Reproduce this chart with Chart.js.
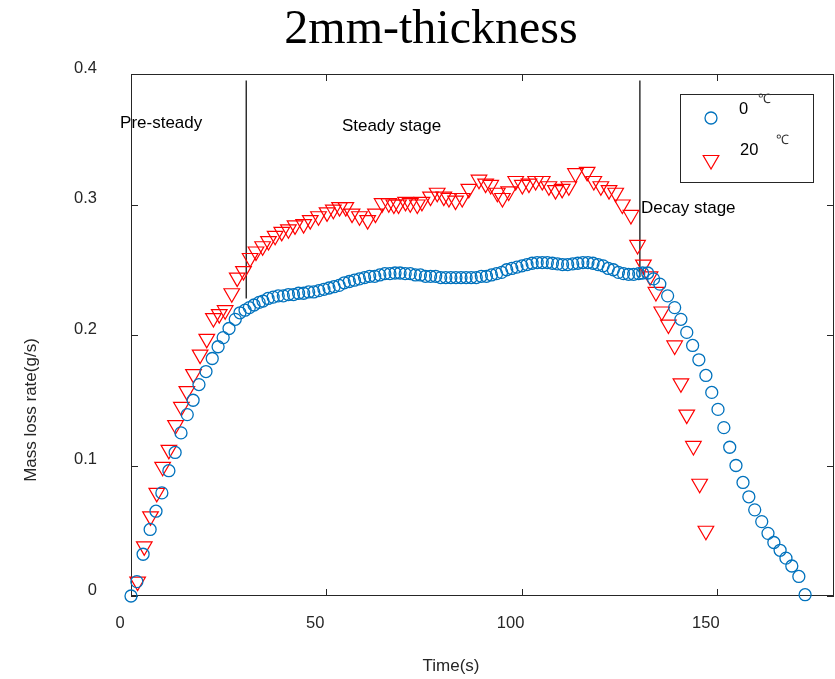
<!DOCTYPE html>
<html>
<head>
<meta charset="utf-8">
<script src="https://cdn.jsdelivr.net/npm/chart.js@4.4.0/dist/chart.umd.min.js"></script>
<style>
  html, body { margin: 0; padding: 0; background: #fff; }
</style>
</head>
<body>
<canvas id="massChart" width="835" height="679"></canvas>
<script>
// axis ticks
const timeTicks = [0, 50, 100, 150];
const rateTicks = [0, 0.1, 0.2, 0.3, 0.4];

// 0 ℃ series (blue circles)
const blueTime = [
  0, 1.5, 3.1, 4.9, 6.4, 7.9, 9.7, 11.3, 12.8, 14.4, 15.9, 17.4, 19.2, 20.8, 22.3, 23.6,
  25.1, 26.7, 27.9, 29.2, 30.3, 31.5, 32.8, 33.8,
  35.1, 36.4, 37.7, 39.0, 40.3, 41.6, 42.9, 44.2, 45.5, 46.8, 48.1, 49.4, 50.7, 52.0,
  53.3, 54.6, 55.9, 57.2, 58.5, 59.8, 61.1, 62.4, 63.7, 65.0, 66.3, 67.6, 68.9, 70.2,
  71.5, 72.8, 74.1, 75.4, 76.7, 78.0, 79.3, 80.6, 81.9, 83.2, 84.5, 85.8, 87.1, 88.4,
  89.7, 91.0, 92.3, 93.6, 94.9, 96.2, 97.5, 98.8, 100.1, 101.4, 102.7, 104.0, 105.3,
  106.6, 107.9, 109.2, 110.5, 111.8, 113.1, 114.4, 115.7, 117.0, 118.3, 119.6, 120.9,
  122.2, 123.5, 124.8, 126.1, 127.4, 128.7, 130.0, 131.0,
  132.3, 133.8, 135.4, 137.4, 139.2, 140.8, 142.3, 143.8, 145.4, 147.2, 148.7, 150.3,
  151.8, 153.3, 154.9, 156.7, 158.2, 159.7, 161.5, 163.1, 164.6, 166.2, 167.7, 169.2,
  171.0, 172.6
];
const blueRate = [
  0.000, 0.011, 0.032, 0.051, 0.065, 0.079, 0.096, 0.110, 0.125, 0.139, 0.150, 0.162, 0.172, 0.182, 0.191, 0.198,
  0.205, 0.212, 0.217, 0.219, 0.221, 0.223, 0.225, 0.226,
  0.228, 0.229, 0.230, 0.230, 0.231, 0.231, 0.232, 0.232, 0.233, 0.233, 0.234, 0.235, 0.236, 0.237,
  0.238, 0.240, 0.241, 0.242, 0.243, 0.244, 0.245, 0.245, 0.246, 0.247, 0.247, 0.2475, 0.2475, 0.247,
  0.247, 0.246, 0.246, 0.245, 0.245, 0.245, 0.244, 0.244, 0.244, 0.244, 0.244, 0.244, 0.244, 0.244,
  0.245, 0.245, 0.246, 0.247, 0.248, 0.250, 0.251, 0.252, 0.253, 0.254, 0.255, 0.2555, 0.2555,
  0.2555, 0.255, 0.2545, 0.254, 0.254, 0.2545, 0.255, 0.2555, 0.2555, 0.255, 0.254, 0.253,
  0.251, 0.250, 0.248, 0.247, 0.2465, 0.2465, 0.247, 0.2475,
  0.2475, 0.243, 0.239, 0.230, 0.221, 0.212, 0.202, 0.192, 0.181, 0.169, 0.156, 0.143,
  0.129, 0.114, 0.100, 0.087, 0.076, 0.066, 0.057, 0.048, 0.041, 0.035, 0.029, 0.023,
  0.015, 0.001
];

// 20 ℃ series (red triangles)
const redTime = [
  1.7, 3.4, 5.0, 6.6, 8.1, 9.7, 11.4, 12.9, 14.3, 16.0, 17.7, 19.4, 21.1, 22.6, 24.1,
  25.8, 27.2, 28.8, 30.5, 32.0, 33.7, 35.2, 36.9, 38.6, 40.3, 42.0, 44.2, 45.9, 48.0,
  50.2, 51.8, 53.4, 55.0, 56.6, 58.5, 60.6, 62.6, 64.3, 66.0, 67.3, 68.5, 70.3, 71.5,
  73.3, 74.5, 76.7, 78.4, 80.1, 81.4, 83.1, 84.8, 86.5, 89.1, 90.8, 92.1, 93.8, 95.1,
  96.7, 98.5, 100.2, 101.9, 103.6, 105.3, 107.0, 108.7, 110.4, 112.1, 113.8, 116.8,
  118.5, 120.3, 122.4, 124.1, 125.8, 128.0, 129.7, 131.2, 132.9, 134.4, 135.9, 137.6,
  139.2, 140.8, 142.3, 144.0, 145.6, 147.2
];
const redRate = [
  0.011, 0.038, 0.061, 0.079, 0.099, 0.112, 0.131, 0.145, 0.157, 0.170, 0.185, 0.197, 0.213, 0.216, 0.219,
  0.232, 0.244, 0.249, 0.259, 0.264, 0.268, 0.272, 0.276, 0.279, 0.281, 0.284, 0.285, 0.288, 0.291,
  0.294, 0.296, 0.298, 0.298, 0.293, 0.291, 0.288, 0.293, 0.301, 0.301, 0.300, 0.300, 0.302, 0.301,
  0.300, 0.302, 0.306, 0.309, 0.306, 0.305, 0.303, 0.305, 0.312, 0.319, 0.316, 0.315, 0.309, 0.305,
  0.310, 0.318, 0.315, 0.316, 0.318, 0.318, 0.314, 0.311, 0.312, 0.314, 0.324, 0.325,
  0.318, 0.314, 0.311, 0.309, 0.300, 0.292, 0.269, 0.254, 0.245, 0.233, 0.218, 0.208,
  0.192, 0.163, 0.139, 0.115, 0.086, 0.050
];

// stage dividers and labels
const stageLineX = [29.5, 130.3];
const stageLineTop = [0.395, 0.395];
const stageLineBottom = [0.228, 0.2445];
const stageLabels = ['Pre-steady', 'Steady stage', 'Decay stage'];
const stageLabelX = [-2.8, 54.0, 130.6];
const stageLabelY = [0.362, 0.360, 0.297];

const seriesNames = ['0', '20'];
const BLUE = '#0072BD';
const RED = '#FF0000';
const SANS = "'Liberation Sans', Arial, sans-serif";

function toPoints(xs, ys) {
  return xs.map((x, i) => ({ x: x, y: ys[i] }));
}

function downTriangle(ctx, x, y, r) {
  const s = Math.sin(Math.PI / 3) * r;
  ctx.beginPath();
  ctx.moveTo(x, y + r);
  ctx.lineTo(x - s, y - r / 2);
  ctx.lineTo(x + s, y - r / 2);
  ctx.closePath();
  ctx.stroke();
}

const decorPlugin = {
  id: 'decor',
  beforeDatasetsDraw(chart) {
    const { ctx, chartArea: a, scales } = chart;
    ctx.save();
    ctx.strokeStyle = '#262626';
    ctx.lineWidth = 1;
    ctx.strokeRect(a.left + 0.5, a.top + 0.5, a.right - a.left - 1, a.bottom - a.top - 1);
    ctx.beginPath();
    timeTicks.forEach(v => {
      const px = Math.round(scales.x.getPixelForValue(v)) + 0.5;
      ctx.moveTo(px, a.bottom); ctx.lineTo(px, a.bottom - 7);
      ctx.moveTo(px, a.top); ctx.lineTo(px, a.top + 7);
    });
    rateTicks.forEach(v => {
      const py = Math.round(scales.y.getPixelForValue(v)) + 0.5;
      ctx.moveTo(a.left, py); ctx.lineTo(a.left + 7, py);
      ctx.moveTo(a.right, py); ctx.lineTo(a.right - 7, py);
    });
    ctx.stroke();
    ctx.restore();
  },
  afterDatasetsDraw(chart) {
    const { ctx, chartArea: a, scales } = chart;
    ctx.save();

    // stage labels
    ctx.fillStyle = '#000';
    ctx.font = '17px ' + SANS;
    ctx.textAlign = 'left';
    ctx.textBaseline = 'middle';
    stageLabels.forEach((t, i) => {
      ctx.fillText(t, scales.x.getPixelForValue(stageLabelX[i]), scales.y.getPixelForValue(stageLabelY[i]));
    });

    // legend box
    const lx = a.right - 154, ly = a.top + 20;
    ctx.fillStyle = '#fff';
    ctx.fillRect(lx, ly, 133, 88);
    ctx.strokeStyle = '#262626';
    ctx.lineWidth = 1;
    ctx.strokeRect(lx + 0.5, ly + 0.5, 133, 88);

    ctx.strokeStyle = BLUE;
    ctx.lineWidth = 1.3;
    ctx.beginPath();
    ctx.arc(lx + 31, ly + 24, 6, 0, Math.PI * 2);
    ctx.stroke();
    ctx.strokeStyle = RED;
    ctx.lineWidth = 1.2;
    downTriangle(ctx, lx + 31, ly + 66, 9);

    ctx.fillStyle = '#000';
    ctx.font = '16.5px ' + SANS;
    ctx.fillText(seriesNames[0], lx + 59, ly + 15);
    ctx.fillText(seriesNames[1], lx + 60, ly + 56);
    ctx.fillStyle = '#333';
    ctx.font = '13px ' + SANS;
    ctx.fillText('℃', lx + 78, ly + 5);
    ctx.fillText('℃', lx + 96, ly + 46);

    // axis titles
    ctx.fillStyle = '#262626';
    ctx.font = '17px ' + SANS;
    ctx.textAlign = 'center';
    ctx.fillText('Time(s)', a.left + 320, a.bottom + 70);
    ctx.translate(31, 410);
    ctx.rotate(-Math.PI / 2);
    ctx.fillText('Mass loss rate(g/s)', 0, 0);
    ctx.restore();
  }
};

const datasets = [
  {
    label: seriesNames[0],
    data: toPoints(blueTime, blueRate),
    pointStyle: 'circle',
    pointRadius: 6,
    pointBorderWidth: 1.3,
    pointBorderColor: BLUE,
    pointBackgroundColor: 'rgba(0,0,0,0)',
    showLine: false,
    clip: false
  },
  {
    label: seriesNames[1],
    data: toPoints(redTime, redRate),
    pointStyle: 'triangle',
    rotation: 180,
    pointRadius: 9,
    pointBorderWidth: 1.2,
    pointBorderColor: RED,
    pointBackgroundColor: 'rgba(0,0,0,0)',
    showLine: false,
    clip: false
  }
];
stageLineX.forEach((x, i) => {
  datasets.push({
    label: 'divider',
    data: [{ x: x, y: stageLineTop[i] }, { x: x, y: stageLineBottom[i] }],
    showLine: true,
    borderColor: '#000',
    borderWidth: 1.2,
    pointRadius: 0
  });
});

new Chart(document.getElementById('massChart'), {
  type: 'scatter',
  data: { datasets: datasets },
  options: {
    responsive: false,
    animation: false,
    layout: { autoPadding: false, padding: { left: 28, right: 1, top: 0, bottom: 0 } },
    plugins: {
      legend: { display: false },
      tooltip: { enabled: false },
      title: {
        display: true,
        text: '2mm-thickness',
        color: '#000',
        font: { family: "'Liberation Serif', 'Times New Roman', serif", size: 48, weight: 'normal', lineHeight: 1.15 },
        padding: { top: 3, bottom: 15.8 }
      }
    },
    scales: {
      x: {
        type: 'linear',
        min: 0,
        max: 180,
        grid: { display: false, drawTicks: false },
        border: { display: false },
        afterBuildTicks: s => { s.ticks = timeTicks.map(v => ({ value: v })); },
        afterFit: s => { s.height = 83; s.paddingLeft = 0; s.paddingRight = 0; },
        ticks: {
          color: '#262626',
          font: { family: SANS, size: 16.5 },
          padding: 18,
          labelOffset: -11,
          maxRotation: 0,
          callback: v => String(v)
        }
      },
      y: {
        type: 'linear',
        min: 0,
        max: 0.4,
        grid: { display: false, drawTicks: false },
        border: { display: false },
        afterBuildTicks: s => { s.ticks = rateTicks.map(v => ({ value: v })); },
        afterFit: s => { s.width = 103; s.paddingTop = 0; s.paddingBottom = 0; },
        ticks: {
          color: '#262626',
          font: { family: SANS, size: 16.5 },
          padding: 34,
          labelOffset: -6,
          callback: v => String(v)
        }
      }
    }
  },
  plugins: [decorPlugin]
});
</script>
</body>
</html>
